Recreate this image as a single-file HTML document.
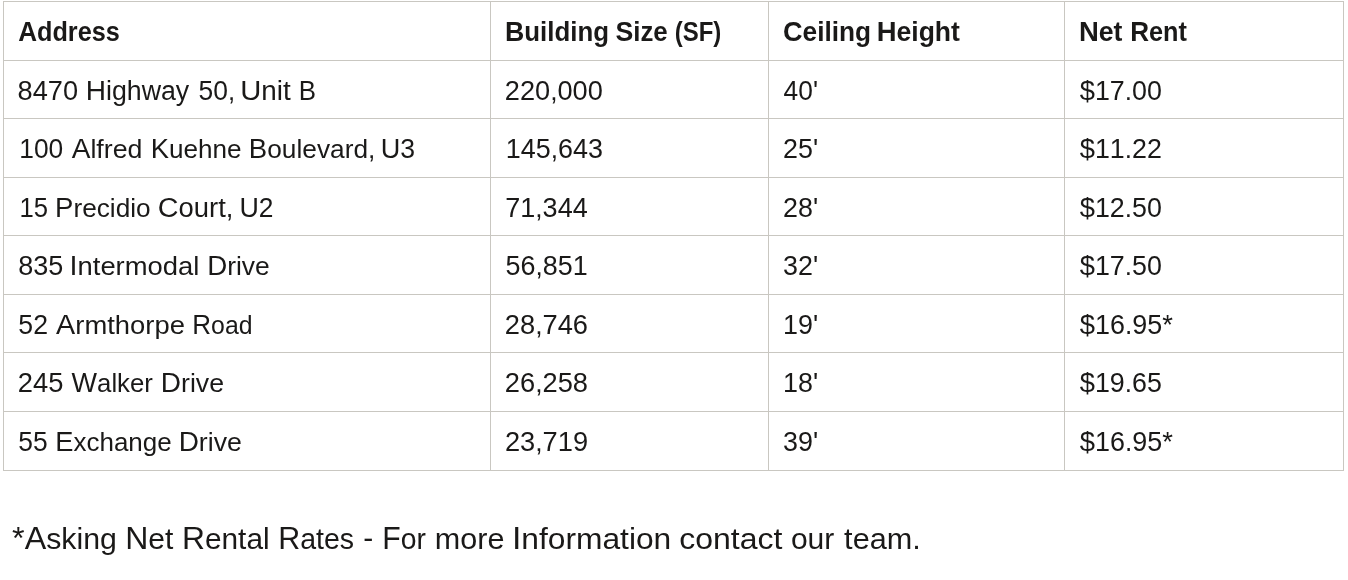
<!DOCTYPE html>
<html><head><meta charset="utf-8"><title>Rent table</title><style>
html,body{margin:0;padding:0;background:#fff;}
body{width:1348px;height:580px;position:relative;overflow:hidden;}
svg{position:absolute;left:0;top:0;will-change:transform;}
text{font-family:"Liberation Sans",sans-serif;fill:#1a1918;stroke:#1a1918;stroke-linejoin:round;white-space:pre;}
.r{font-size:26.70px;stroke-width:0.00px;}
.b{font-size:26.90px;font-weight:bold;stroke-width:0.00px;}
.f{font-size:30.00px;stroke-width:0.00px;}
.n{font-kerning:none;}
</style></head><body>
<svg width="1348" height="580" viewBox="0 0 1348 580">
<g fill="#c9c7c1" shape-rendering="crispEdges">
<rect x="3" y="1" width="1341" height="1"/>
<rect x="3" y="60" width="1341" height="1"/>
<rect x="3" y="118" width="1341" height="1"/>
<rect x="3" y="177" width="1341" height="1"/>
<rect x="3" y="235" width="1341" height="1"/>
<rect x="3" y="294" width="1341" height="1"/>
<rect x="3" y="352" width="1341" height="1"/>
<rect x="3" y="411" width="1341" height="1"/>
<rect x="3" y="470" width="1341" height="1"/>
<rect x="3" y="1" width="1" height="470"/>
<rect x="490" y="1" width="1" height="470"/>
<rect x="768" y="1" width="1" height="470"/>
<rect x="1064" y="1" width="1" height="470"/>
<rect x="1343" y="1" width="1" height="470"/>
</g>
<text class="b" transform="translate(18.19,41.00) scale(0.9381,1)"><tspan font-size="27.80">A</tspan>ddress</text>
<text class="b" transform="translate(505.04,41.00) scale(0.9605,1)"><tspan font-size="27.80">B</tspan>uilding</text>
<text class="b" transform="translate(615.42,41.00) scale(0.9605,1)"><tspan font-size="27.80">S</tspan>ize</text>
<text class="b" transform="translate(674.72,41.00) scale(0.8630,1)"><tspan font-size="27.80">(SF)</tspan></text>
<text class="b" transform="translate(783.02,41.00) scale(0.9742,1)"><tspan font-size="27.80">C</tspan>eiling</text>
<text class="b" transform="translate(876.69,41.00) scale(0.9867,1)"><tspan font-size="27.80">H</tspan>eight</text>
<text class="b" transform="translate(1078.98,41.00) scale(0.9889,1)"><tspan font-size="27.80">N</tspan>et</text>
<text class="b" transform="translate(1130.22,41.00) scale(0.9390,1)"><tspan font-size="27.80">R</tspan>ent</text>
<text class="r n" transform="translate(17.60,100.00) scale(0.9886,1)"><tspan font-size="27.50">8470</tspan></text>
<text class="r" transform="translate(85.69,100.00) scale(1.0026,1)"><tspan font-size="28.00">H</tspan>ighway</text>
<text class="r n" transform="translate(198.58,100.00) scale(0.9604,1)"><tspan font-size="27.50">50</tspan>,</text>
<text class="r" transform="translate(240.18,100.00) scale(1.0438,1)"><tspan font-size="28.00">U</tspan>nit</text>
<text class="r" transform="translate(298.86,100.00) scale(0.9240,1)"><tspan font-size="28.00">B</tspan></text>
<text class="r n" transform="translate(19.27,158.00) scale(0.9581,1)"><tspan font-size="27.50">100</tspan></text>
<text class="r" transform="translate(71.70,158.00) scale(1.0015,1)"><tspan font-size="28.00">A</tspan>lfred</text>
<text class="r" transform="translate(150.65,158.00) scale(0.9781,1)"><tspan font-size="28.00">K</tspan>uehne</text>
<text class="r" transform="translate(248.84,158.00) scale(0.9849,1)"><tspan font-size="28.00">B</tspan>oulevard,</text>
<text class="r" transform="translate(380.65,158.00) scale(0.9682,1)"><tspan font-size="28.00">U</tspan><tspan font-size="27.50">3</tspan></text>
<text class="r n" transform="translate(19.38,217.00) scale(0.9336,1)"><tspan font-size="27.50">15</tspan></text>
<text class="r" transform="translate(55.08,217.00) scale(0.9824,1)"><tspan font-size="28.00">P</tspan>recidio</text>
<text class="r" transform="translate(157.81,217.00) scale(1.0261,1)"><tspan font-size="28.00">C</tspan>ourt,</text>
<text class="r" transform="translate(239.45,217.00) scale(0.9592,1)"><tspan font-size="28.00">U</tspan><tspan font-size="27.50">2</tspan></text>
<text class="r n" transform="translate(18.14,275.00) scale(0.9824,1)"><tspan font-size="27.50">835</tspan></text>
<text class="r" transform="translate(69.53,275.00) scale(1.0268,1)"><tspan font-size="28.00">I</tspan>ntermodal</text>
<text class="r" transform="translate(207.14,275.00) scale(0.9900,1)"><tspan font-size="28.00">D</tspan>rive</text>
<text class="r n" transform="translate(18.33,334.00) scale(0.9700,1)"><tspan font-size="27.50">52</tspan></text>
<text class="r" transform="translate(56.10,334.00) scale(1.0267,1)"><tspan font-size="28.00">A</tspan>rmthorpe</text>
<text class="r" transform="translate(192.26,334.00) scale(0.9305,1)"><tspan font-size="28.00">R</tspan>oad</text>
<text class="r n" transform="translate(17.83,392.00) scale(0.9944,1)"><tspan font-size="27.50">245</tspan></text>
<text class="r" transform="translate(71.57,392.00) scale(0.9650,1)"><tspan font-size="28.00">W</tspan>alker</text>
<text class="r" transform="translate(160.79,392.00) scale(0.9993,1)"><tspan font-size="28.00">D</tspan>rive</text>
<text class="r n" transform="translate(18.37,451.00) scale(0.9616,1)"><tspan font-size="27.50">55</tspan></text>
<text class="r" transform="translate(55.36,451.00) scale(0.9727,1)"><tspan font-size="28.00">E</tspan>xchange</text>
<text class="r" transform="translate(178.64,451.00) scale(0.9991,1)"><tspan font-size="28.00">D</tspan>rive</text>
<text class="r n" transform="translate(504.84,100.00) scale(0.9879,1)"><tspan font-size="27.50">220</tspan>,<tspan font-size="27.50">000</tspan></text>
<text class="r n" transform="translate(505.79,158.00) scale(0.9798,1)"><tspan font-size="27.50">145</tspan>,<tspan font-size="27.50">643</tspan></text>
<text class="r n" transform="translate(505.29,217.00) scale(0.9820,1)"><tspan font-size="27.50">71</tspan>,<tspan font-size="27.50">344</tspan></text>
<text class="r n" transform="translate(505.45,275.00) scale(0.9796,1)"><tspan font-size="27.50">56</tspan>,<tspan font-size="27.50">851</tspan></text>
<text class="r n" transform="translate(504.84,334.00) scale(0.9914,1)"><tspan font-size="27.50">28</tspan>,<tspan font-size="27.50">746</tspan></text>
<text class="r n" transform="translate(504.87,392.00) scale(0.9914,1)"><tspan font-size="27.50">26</tspan>,<tspan font-size="27.50">258</tspan></text>
<text class="r n" transform="translate(504.96,451.00) scale(0.9909,1)"><tspan font-size="27.50">23</tspan>,<tspan font-size="27.50">719</tspan></text>
<text class="r n" transform="translate(783.61,100.00) scale(0.9571,1)"><tspan font-size="27.50">40</tspan><tspan font-size="28.00">&#39;</tspan></text>
<text class="r n" transform="translate(783.06,158.00) scale(0.9778,1)"><tspan font-size="27.50">25</tspan><tspan font-size="28.00">&#39;</tspan></text>
<text class="r n" transform="translate(783.06,217.00) scale(0.9778,1)"><tspan font-size="27.50">28</tspan><tspan font-size="28.00">&#39;</tspan></text>
<text class="r n" transform="translate(783.04,275.00) scale(0.9771,1)"><tspan font-size="27.50">32</tspan><tspan font-size="28.00">&#39;</tspan></text>
<text class="r n" transform="translate(783.06,334.00) scale(0.9778,1)"><tspan font-size="27.50">19</tspan><tspan font-size="28.00">&#39;</tspan></text>
<text class="r n" transform="translate(783.06,392.00) scale(0.9778,1)"><tspan font-size="27.50">18</tspan><tspan font-size="28.00">&#39;</tspan></text>
<text class="r n" transform="translate(783.04,451.00) scale(0.9771,1)"><tspan font-size="27.50">39</tspan><tspan font-size="28.00">&#39;</tspan></text>
<text class="r n" transform="translate(1079.73,100.00) scale(0.9759,1)"><tspan font-size="28.00">$</tspan><tspan font-size="27.50">17</tspan>.<tspan font-size="27.50">00</tspan></text>
<text class="r n" transform="translate(1079.73,158.00) scale(0.9759,1)"><tspan font-size="28.00">$</tspan><tspan font-size="27.50">11</tspan>.<tspan font-size="27.50">22</tspan></text>
<text class="r n" transform="translate(1079.73,217.00) scale(0.9759,1)"><tspan font-size="28.00">$</tspan><tspan font-size="27.50">12</tspan>.<tspan font-size="27.50">50</tspan></text>
<text class="r n" transform="translate(1079.73,275.00) scale(0.9759,1)"><tspan font-size="28.00">$</tspan><tspan font-size="27.50">17</tspan>.<tspan font-size="27.50">50</tspan></text>
<text class="r n" transform="translate(1079.78,334.00) scale(0.9790,1)"><tspan font-size="28.00">$</tspan><tspan font-size="27.50">16</tspan>.<tspan font-size="27.50">95</tspan><tspan font-size="28.00">*</tspan></text>
<text class="r n" transform="translate(1079.73,392.00) scale(0.9759,1)"><tspan font-size="28.00">$</tspan><tspan font-size="27.50">19</tspan>.<tspan font-size="27.50">65</tspan></text>
<text class="r n" transform="translate(1079.78,451.00) scale(0.9790,1)"><tspan font-size="28.00">$</tspan><tspan font-size="27.50">16</tspan>.<tspan font-size="27.50">95</tspan><tspan font-size="28.00">*</tspan></text>
<text class="f" transform="translate(12.09,548.90) scale(1.0096,1)"><tspan font-size="32.00">*A</tspan>sking</text>
<text class="f" transform="translate(125.19,548.90) scale(1.0004,1)"><tspan font-size="32.00">N</tspan>et</text>
<text class="f" transform="translate(181.95,548.90) scale(0.9946,1)"><tspan font-size="32.00">R</tspan>ental</text>
<text class="f" transform="translate(278.19,548.90) scale(0.9512,1)"><tspan font-size="32.00">R</tspan>ates</text>
<text class="f n" transform="translate(363.24,547.60) scale(1.0011,1)">-</text>
<text class="f" transform="translate(382.26,548.90) scale(0.9432,1)"><tspan font-size="32.00">F</tspan>or</text>
<text class="f" transform="translate(434.77,548.90) scale(1.0197,1)">more</text>
<text class="f" transform="translate(511.88,548.90) scale(1.0583,1)"><tspan font-size="32.00">I</tspan>nformation</text>
<text class="f" transform="translate(679.20,548.90) scale(1.0670,1)">contact</text>
<text class="f" transform="translate(790.90,548.90) scale(1.0016,1)">our</text>
<text class="f" transform="translate(844.12,548.90) scale(1.0217,1)">team.</text>
</svg></body></html>
